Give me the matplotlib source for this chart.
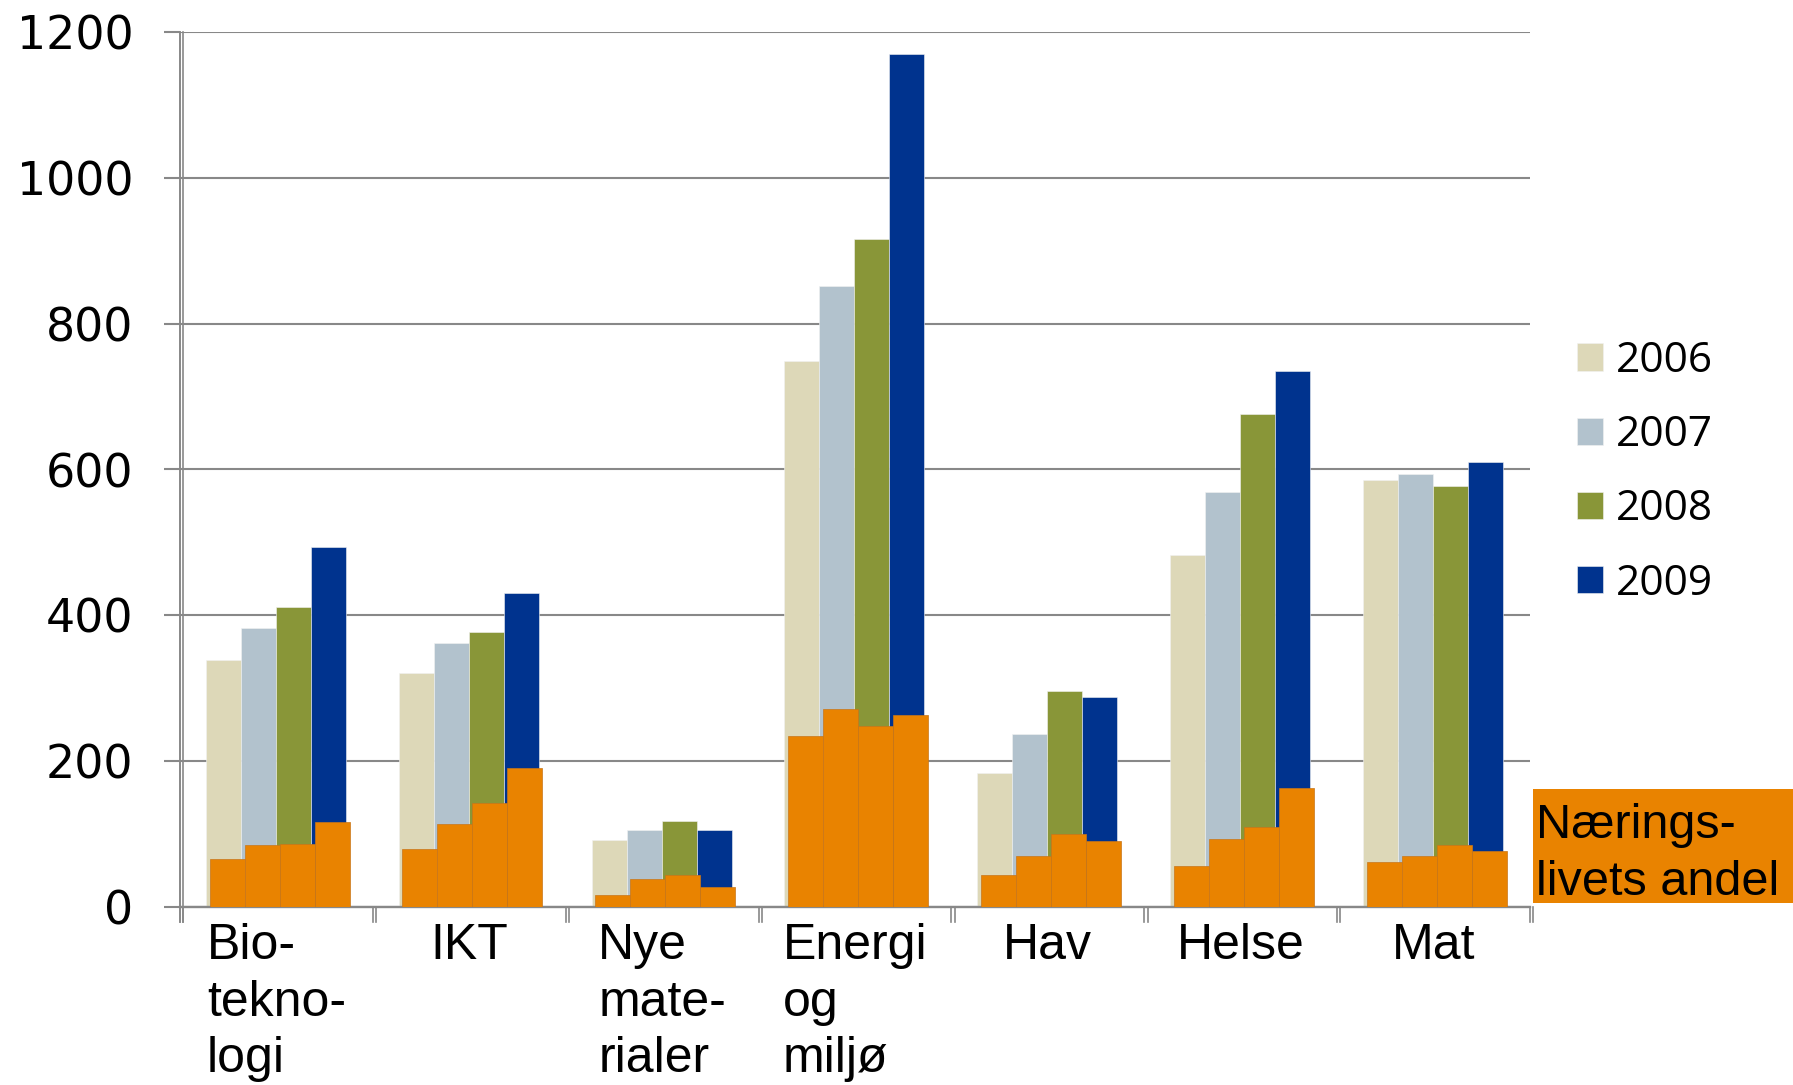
import matplotlib
matplotlib.use("Agg")
import matplotlib.pyplot as plt
import numpy as np
from matplotlib.patches import Rectangle
from matplotlib.lines import Line2D
import matplotlib.transforms as mtransforms

# ---- data ----
categories = ["Bio-\ntekno-\nlogi", "IKT", "Nye\nmate-\nrialer", "Energi\nog\nmiljø",
              "Hav", "Helse", "Mat"]
years = ["2006", "2007", "2008", "2009"]
v2006 = [338, 321, 92, 749, 184, 482, 585]
v2007 = [382, 362, 105, 852, 237, 569, 594]
v2008 = [411, 377, 117, 916, 296, 676, 577]
v2009 = [494, 431, 105, 1170, 288, 735, 610]
naering2006 = [65, 79, 16, 234, 43, 56, 62]
naering2007 = [85, 114, 38, 271, 69, 93, 70]
naering2008 = [86, 143, 43, 248, 100, 110, 84]
naering2009 = [116, 190, 27, 263, 90, 163, 76]
yticks = [0, 200, 400, 600, 800, 1000, 1200]
naering_label = ["Nærings-", "livets andel"]

totals = [v2006, v2007, v2008, v2009]
naering = [naering2006, naering2007, naering2008, naering2009]
colors = ["#DDD8B8", "#B2C2CD", "#899638", "#00338E"]
orange = "#E98300"
grid_col = "#888888"

W, H = 1793, 1085
fig = plt.figure(figsize=(W / 100, H / 100), dpi=100)
ax = fig.add_axes([180 / W, (H - 906.7) / H, 1350 / W, (906.7 - 32.3) / H])

x = np.arange(len(categories))
bw = 0.1815
start = -0.366
shift = 0.019

handles = []
for i, (vals, c) in enumerate(zip(totals, colors)):
    b = ax.bar(x + start + bw / 2 + i * bw, vals, width=bw, color=c,
               edgecolor="#f2f2f2", linewidth=0.4, zorder=2, label=years[i])
    handles.append(b)
for i, vals in enumerate(naering):
    ax.bar(x + start + bw / 2 + i * bw + shift, vals, width=bw, color=orange,
           edgecolor="#C8761A", linewidth=0.5, zorder=3)

ax.set_xlim(-0.5, len(categories) - 0.5)
ax.set_ylim(0, 1200)
ax.set_yticks(yticks)
ax.set_yticklabels([str(t) for t in yticks], fontsize=33, family="DejaVu Sans")
ax.yaxis.grid(True, color=grid_col, linewidth=1.5, zorder=0)
ax.set_axisbelow(True)
ax.tick_params(axis="y", length=11.5, width=1.5, color=grid_col, pad=22, direction="out")

ax.set_xticks(x)
ax.set_xticklabels(categories, fontsize=36, family="Liberation Sans",
                   linespacing=1.285, multialignment="left")
ax.tick_params(axis="x", length=0, pad=12)

for s in ["top", "right"]:
    ax.spines[s].set_visible(False)
ax.spines["bottom"].set_color(grid_col)
ax.spines["bottom"].set_linewidth(1.7)
ax.spines["left"].set_color(grid_col)
ax.spines["left"].set_linewidth(1.2)
ax.spines["left"].set_bounds(0, 1200)

# double left axis line (extending below the base)
off = mtransforms.offset_copy(ax.transAxes, fig=fig, x=3.3, y=0, units="dots")
for tr in [ax.transAxes, off]:
    ax.add_line(Line2D([0, 0], [0, 1], transform=tr, color=grid_col, lw=1.2, clip_on=False))
    ax.add_line(Line2D([0, 0], [0, -15 / (906.7 - 32.3)], transform=tr, color=grid_col,
                       lw=1.2, clip_on=False))

# double x tick marks at category boundaries
bt = mtransforms.blended_transform_factory(ax.transData, ax.transAxes)
for b in np.arange(-0.5, len(categories), 1.0):
    for dx in [0, 3.3]:
        tr = bt + mtransforms.ScaledTranslation(dx / 100, 0, fig.dpi_scale_trans)
        ax.add_line(Line2D([b, b], [0, -15 / (906.7 - 32.3)], transform=tr,
                           color=grid_col, lw=1.2, clip_on=False))

# legend
leg = ax.legend(handles=handles, labels=years, loc="upper left",
                bbox_to_anchor=(1577 / W, 1 - 340 / H), bbox_transform=fig.transFigure,
                frameon=False, prop={"family": "Open Sans", "size": 30.5},
                handlelength=0.62, handleheight=0.62, handletextpad=0.3,
                labelspacing=0.76, borderpad=0, borderaxespad=0)

# orange box annotation
fig.patches.append(Rectangle((1533 / W, (H - 903) / H), (W - 1533) / W, 114 / H,
                             transform=fig.transFigure, facecolor=orange,
                             edgecolor="none", zorder=5))
fig.text(1536 / W, 1 - 838 / H, naering_label[0], fontsize=35, family="Liberation Sans",
         va="baseline", ha="left", zorder=6)
fig.text(1536 / W, 1 - 895 / H, naering_label[1], fontsize=35, family="Liberation Sans",
         va="baseline", ha="left", zorder=6)

fig.savefig("out.png", dpi=100)
